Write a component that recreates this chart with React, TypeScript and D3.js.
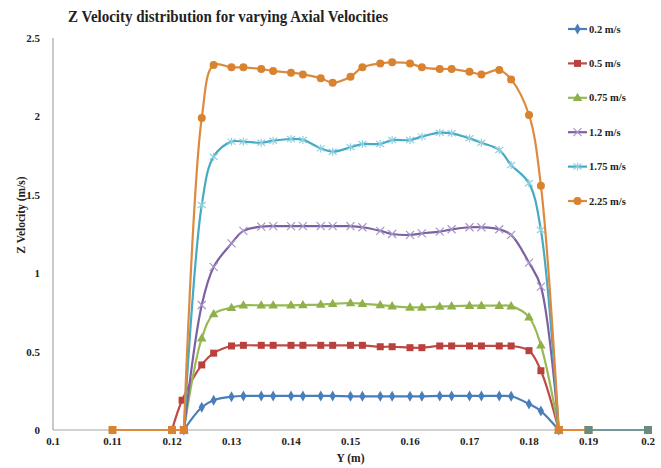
import React from 'react'
import * as d3 from 'd3'

// positions along Y (m) where the probe values were sampled
const yPos = [0.122, 0.125, 0.127, 0.13, 0.132, 0.135, 0.137, 0.14, 0.142, 0.145, 0.147, 0.15, 0.152,
  0.155, 0.157, 0.16, 0.162, 0.165, 0.167, 0.17, 0.172, 0.175, 0.177, 0.18, 0.182, 0.185]
const yPosRed = [0.12, 0.1217, 0.125, 0.127, 0.13, 0.132, 0.135, 0.137, 0.14, 0.142, 0.145, 0.147, 0.15, 0.152,
  0.155, 0.157, 0.16, 0.162, 0.165, 0.167, 0.17, 0.172, 0.175, 0.177, 0.18, 0.182, 0.185]

const v02 = [0, 0.145, 0.19, 0.212, 0.217, 0.217, 0.217, 0.217, 0.217, 0.217, 0.217, 0.215, 0.215,
  0.215, 0.215, 0.215, 0.215, 0.217, 0.217, 0.217, 0.217, 0.217, 0.215, 0.166, 0.121, 0]
const v05 = [0, 0.19, 0.415, 0.49, 0.536, 0.54, 0.54, 0.54, 0.54, 0.54, 0.54, 0.54, 0.54, 0.54,
  0.531, 0.531, 0.525, 0.525, 0.536, 0.536, 0.536, 0.536, 0.536, 0.536, 0.506, 0.378, 0]
const v075 = [0, 0.585, 0.74, 0.78, 0.795, 0.795, 0.795, 0.795, 0.797, 0.8, 0.805, 0.81, 0.805,
  0.797, 0.79, 0.782, 0.782, 0.787, 0.79, 0.793, 0.793, 0.793, 0.79, 0.72, 0.54, 0]
const v12 = [0, 0.797, 1.04, 1.19, 1.27, 1.297, 1.3, 1.3, 1.3, 1.3, 1.3, 1.3, 1.293,
  1.27, 1.25, 1.244, 1.254, 1.265, 1.28, 1.293, 1.293, 1.28, 1.244, 1.067, 0.914, 0]
const v175 = [0, 1.435, 1.743, 1.839, 1.839, 1.832, 1.845, 1.856, 1.85, 1.796, 1.775, 1.803, 1.824,
  1.824, 1.849, 1.849, 1.871, 1.896, 1.892, 1.86, 1.832, 1.786, 1.69, 1.573, 1.275, 0]
const v225 = [0, 1.99, 2.328, 2.313, 2.313, 2.302, 2.29, 2.279, 2.268, 2.243, 2.215, 2.253, 2.313,
  2.338, 2.345, 2.338, 2.313, 2.302, 2.302, 2.285, 2.268, 2.296, 2.236, 2.009, 1.558, 0]

// zero points outside the duct
const baseLeftX = [0.11, 0.12, 0.122]
const baseLeftV = [0, 0, 0]
const baseMidX = [0.185, 0.19]
const baseMidV = [0, 0]
const baseRightX = [0.19, 0.2]
const baseRightV = [0, 0]

const seriesNames = ['0.2 m/s', '0.5 m/s', '0.75 m/s', '1.2 m/s', '1.75 m/s', '2.25 m/s']
const xTicks = [0.1, 0.11, 0.12, 0.13, 0.14, 0.15, 0.16, 0.17, 0.18, 0.19, 0.2]
const yTicks = [0, 0.5, 1, 1.5, 2, 2.5]

const W = 661
const H = 468
const font = '"Liberation Serif", "Times New Roman", serif'

const x = d3.scaleLinear().domain([0.1, 0.2]).range([53, 648])
const y = d3.scaleLinear().domain([0, 2.5]).range([430, 38])

type Marker = 'diamond' | 'square' | 'triangle' | 'x' | 'star' | 'circle'

const series = [
  { name: seriesNames[0], xs: yPos, vs: v02, color: '#4a7ebb', mark: '#4a7ebb', marker: 'diamond' as Marker },
  { name: seriesNames[1], xs: yPosRed, vs: v05, color: '#be4b48', mark: '#b9403d', marker: 'square' as Marker },
  { name: seriesNames[2], xs: yPos, vs: v075, color: '#98b954', mark: '#8fb04a', marker: 'triangle' as Marker },
  { name: seriesNames[3], xs: yPos, vs: v12, color: '#7d60a0', mark: '#a895c8', marker: 'x' as Marker },
  { name: seriesNames[4], xs: yPos, vs: v175, color: '#46aac5', mark: '#8fd0e0', marker: 'star' as Marker },
  { name: seriesNames[5], xs: yPos, vs: v225, color: '#dd8a3f', mark: '#d9822f', marker: 'circle' as Marker },
]

const line = d3
  .line<[number, number]>()
  .x(d => x(d[0]))
  .y(d => y(d[1]))
  .curve(d3.curveCatmullRom.alpha(0.5))

const MarkerShape = ({ type, cx, cy, color }: { type: Marker; cx: number; cy: number; color: string }) => {
  if (type === 'diamond') {
    return <path d={d3.symbol(d3.symbolDiamond, 34)()!} transform={`translate(${cx},${cy})`} fill={color} />
  }
  if (type === 'square') {
    return <rect x={cx - 3.5} y={cy - 3.5} width={7} height={7} fill={color} />
  }
  if (type === 'triangle') {
    return <path d={d3.symbol(d3.symbolTriangle, 40)()!} transform={`translate(${cx},${cy + 0.5})`} fill={color} />
  }
  if (type === 'x') {
    return (
      <g stroke={color} strokeWidth={1.2}>
        <line x1={cx - 4} y1={cy - 4} x2={cx + 4} y2={cy + 4} />
        <line x1={cx - 4} y1={cy + 4} x2={cx + 4} y2={cy - 4} />
      </g>
    )
  }
  if (type === 'star') {
    return (
      <g stroke={color} strokeWidth={1.2}>
        <line x1={cx - 4} y1={cy - 3} x2={cx + 4} y2={cy + 3} />
        <line x1={cx - 4} y1={cy + 3} x2={cx + 4} y2={cy - 3} />
        <line x1={cx} y1={cy - 4} x2={cx} y2={cy + 4} />
      </g>
    )
  }
  return <circle cx={cx} cy={cy} r={4} fill={color} />
}

export default function App() {
  const base = [
    { xs: baseLeftX, vs: baseLeftV, color: '#dd8a3f', mark: '#d9822f' },
    { xs: baseMidX, vs: baseMidV, color: '#dd8a3f', mark: '#d9822f' },
    { xs: baseRightX, vs: baseRightV, color: '#6f9a9a', mark: '#6a8c80' },
  ]

  return (
    <svg width={W} height={H} style={{ position: 'absolute', left: 0, top: 0, background: '#fff' }}>
      <rect width={W} height={H} fill="#fff" />
      <text x={68} y={22} fontFamily={font} fontWeight="bold" fontSize={16} fill="#222"
        textLength={320} lengthAdjust="spacingAndGlyphs">
        Z Velocity distribution for varying Axial Velocities
      </text>

      {/* axes */}
      <line x1={x(0.1)} x2={x(0.1)} y1={y(2.5)} y2={y(0)} stroke="#a6a6a6" strokeWidth={1.2} />
      <line x1={x(0.1)} x2={x(0.2)} y1={y(0)} y2={y(0)} stroke="#a6a6a6" strokeWidth={1.2} />

      {yTicks.map(t => (
        <text key={t} x={40} y={y(t) + 4} textAnchor="end" fontFamily={font} fontWeight="bold" fontSize={11} fill="#222">
          {t}
        </text>
      ))}
      {xTicks.map(t => (
        <text key={t} x={x(t)} y={445} textAnchor="middle" fontFamily={font} fontWeight="bold" fontSize={11} fill="#222">
          {d3.format('~g')(t)}
        </text>
      ))}
      <text x={x(0.15)} y={462} textAnchor="middle" fontFamily={font} fontWeight="bold" fontSize={11.5} fill="#222">
        Y (m)
      </text>
      <text transform="translate(25,215) rotate(-90)" textAnchor="middle" fontFamily={font} fontWeight="bold"
        fontSize={11.5} fill="#222">
        Z Velocity (m/s)
      </text>

      {series.map(s => {
        const pts = s.xs.map((v, i) => [v, s.vs[i]] as [number, number])
        return (
          <g key={s.name}>
            <path d={line(pts)!} fill="none" stroke={s.color} strokeWidth={2.2} />
            {pts.map((p, i) => (
              <MarkerShape key={i} type={s.marker} cx={x(p[0])} cy={y(p[1])} color={s.mark} />
            ))}
          </g>
        )
      })}

      {base.map((b, k) => {
        const pts = b.xs.map((v, i) => [v, b.vs[i]] as [number, number])
        return (
          <g key={k}>
            <path d={line(pts)!} fill="none" stroke={b.color} strokeWidth={2} />
            {pts.map((p, i) => (
              <rect key={i} x={x(p[0]) - 4} y={y(p[1]) - 4} width={8} height={8} fill={b.mark} />
            ))}
          </g>
        )
      })}

      {/* legend */}
      {series.map((s, i) => {
        const ly = 29 + i * 34.4
        return (
          <g key={s.name}>
            <line x1={568} x2={587} y1={ly} y2={ly} stroke={s.color} strokeWidth={2.2} />
            <MarkerShape type={s.marker} cx={577.5} cy={ly} color={s.mark} />
            <text x={589} y={ly + 3.5} fontFamily={font} fontWeight="bold" fontSize={10.5} fill="#222">
              {s.name}
            </text>
          </g>
        )
      })}
    </svg>
  )
}
